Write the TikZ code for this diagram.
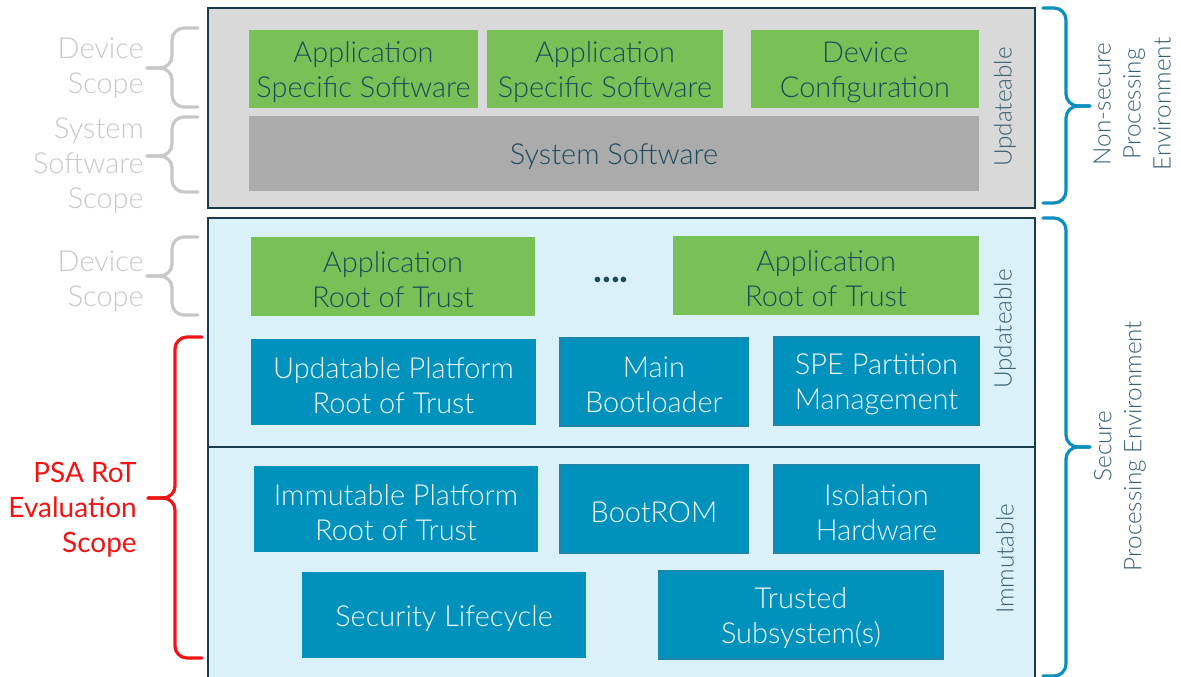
\documentclass[tikz,border=0pt]{standalone}
\usepackage{fontspec}
\setmainfont{Lato Light}[BoldFont={Lato Bold}]
\newfontfamily\latoreg{Lato}
\definecolor{cgrayfill}{HTML}{D9D9D9}
\definecolor{cbluefill}{HTML}{DAF1FA}
\definecolor{cborder}{HTML}{1B3A4B}
\definecolor{cgreen}{HTML}{77C157}
\definecolor{csys}{HTML}{ABABAB}
\definecolor{cblue}{HTML}{0091BD}
\definecolor{cbedge}{HTML}{1A86AC}
\definecolor{cdark}{HTML}{1E4A5C}
\definecolor{cwhite}{HTML}{F2F9FC}
\definecolor{cscope}{HTML}{C8C8C8}
\definecolor{cside}{HTML}{3A6072}
\definecolor{cbrace}{HTML}{0A8FBF}
\definecolor{cred}{HTML}{F01414}
\begin{document}
\begin{tikzpicture}[x=0.75pt,y=-0.75pt,
  wh/.style 2 args={minimum width=#1*0.75pt, minimum height=#2*0.75pt},
  box/.style={rectangle, inner sep=0pt},
  btext/.style={align=center, inner sep=0pt, yshift=-2.4pt, font=\fontsize{21.7}{26.3}\selectfont},
  gtext/.style={btext, text=cdark},
  wtext/.style={btext, text=cwhite},
  gbox/.style={box, fill=cgreen, label={[gtext]center:{#1}}},
  sysbox/.style={box, fill=csys, label={[gtext]center:{#1}}},
  bbox/.style={box, fill=cblue, label={[wtext]center:{#1}}},
  bboxe/.style={box, fill=cblue, draw=cbedge, line width=0.9pt, label={[wtext]center:{#1}}},
  outerbox/.style={rectangle, draw=cborder, line width=1.6pt, inner sep=0pt},
  sidelabel/.style={font=\fontsize{18.2}{22.5}\selectfont, text=cside, align=center, rotate=90},
  scopelabel/.style={font=\fontsize{21.7}{26.3}\selectfont, text=cscope, align=right, anchor=east, inner sep=0pt},
  bracestyle/.style={line width=2.4pt, rounded corners=9pt, line cap=round}
]
\useasboundingbox (0,0) rectangle (1181,677);
\fill[white] (0,0) rectangle (1181,677);

% outer regions
\node[outerbox, fill=cgrayfill, wh={827}{200}] (nspe) at (621.5,108) {};
\node[outerbox, fill=cbluefill, wh={827}{472}] (spe) at (621.5,454) {};
\coordinate (divl) at (208,447);
\coordinate (divr) at (1035,447);
\draw[draw=cborder, line width=1.6pt] (divl) -- (divr);

% non-secure boxes
\node[gbox={Application\\Specific Software}, wh={229}{78}] (asw1) at (363.5,69) {};
\node[gbox={Application\\Specific Software}, wh={236}{78}] (asw2) at (605,69) {};
\node[gbox={Device\\Configuration}, wh={228}{78}] (devcfg) at (865,69) {};
\node[sysbox={System Software}, wh={730}{75}] (syssw) at (614,153.5) {};

% secure updateable
\node[gbox={Application\\Root of Trust}, wh={284}{79}] (arot1) at (393,276.5) {};
\node[font=\fontsize{28}{28}\selectfont\bfseries, text=cdark, inner sep=0pt] (dots) at (611,280) {....};
\node[gbox={Application\\Root of Trust}, wh={306}{79}] (arot2) at (826,275.5) {};
\node[bbox={Updatable Platform\\Root of Trust}, wh={285}{86}] (uprot) at (393.5,382) {};
\node[bboxe={Main\\Bootloader}, wh={188}{88}] (mbl) at (654,382) {};
\node[bboxe={SPE Partition\\Management}, wh={205}{88}] (spm) at (876.5,381) {};

% secure immutable
\node[bbox={Immutable Platform\\Root of Trust}, wh={284}{86}] (iprot) at (396,509) {};
\node[bboxe={BootROM}, wh={188}{88}] (brom) at (654,509) {};
\node[bboxe={Isolation\\Hardware}, wh={205}{88}] (iso) at (876.5,509) {};
\node[bbox={Security Lifecycle}, wh={284}{86}] (slc) at (444,615) {};
\node[bboxe={Trusted\\Subsystem(s)}, wh={284}{88}] (tss) at (801,615) {};

% rotated labels inside
\node[sidelabel] (upd1) at (1005,107) {Updateable};
\node[sidelabel] (upd2) at (1005,329) {Updateable};
\node[sidelabel] (imm) at (1005,559) {Immutable};

% right side labels
\node[sidelabel] (nslabel) at (1132,104) {Non-secure\\Processing\\Environment};
\node[sidelabel] (slabel) at (1120,446) {Secure\\Processing Environment};

% right braces
\coordinate (rb1a) at (1043,8);
\coordinate (rb1m) at (1066,106);
\coordinate (rb1t) at (1090,106);
\coordinate (rb1b) at (1043,203);
\draw[bracestyle, draw=cbrace] (rb1a) -| (rb1m) -- (rb1t);
\draw[bracestyle, draw=cbrace] (rb1b) -| (rb1m) -- (rb1t);
\coordinate (rb2a) at (1043,218);
\coordinate (rb2m) at (1066,447);
\coordinate (rb2t) at (1090,447);
\coordinate (rb2b) at (1043,676);
\draw[bracestyle, draw=cbrace] (rb2a) -| (rb2m) -- (rb2t);
\draw[bracestyle, draw=cbrace] (rb2b) -| (rb2m) -- (rb2t);

% left scope labels
\node[scopelabel] (ds1) at (144,68) {Device\\Scope};
\node[scopelabel] (sss) at (144,165.5) {System\\Software\\Scope};
\node[scopelabel] (ds2) at (144,281.5) {Device\\Scope};
\node[scopelabel, text=cred, font=\latoreg\fontsize{21}{26.3}\selectfont] (psa) at (137,509.5) {PSA RoT\\Evaluation\\Scope};

% left braces
\coordinate (lb1a) at (198,28);
\coordinate (lb1m) at (172,68);
\coordinate (lb1t) at (147,68);
\coordinate (lb1b) at (198,107);
\draw[bracestyle, draw=cscope] (lb1a) -| (lb1m) -- (lb1t);
\draw[bracestyle, draw=cscope] (lb1b) -| (lb1m) -- (lb1t);
\coordinate (lb2a) at (198,117);
\coordinate (lb2m) at (172,156);
\coordinate (lb2t) at (147,156);
\coordinate (lb2b) at (198,192);
\draw[bracestyle, draw=cscope] (lb2a) -| (lb2m) -- (lb2t);
\draw[bracestyle, draw=cscope] (lb2b) -| (lb2m) -- (lb2t);
\coordinate (lb3a) at (198,237);
\coordinate (lb3m) at (172,276);
\coordinate (lb3t) at (147,276);
\coordinate (lb3b) at (198,315);
\draw[bracestyle, draw=cscope] (lb3a) -| (lb3m) -- (lb3t);
\draw[bracestyle, draw=cscope] (lb3b) -| (lb3m) -- (lb3t);
\coordinate (lb4a) at (202,337);
\coordinate (lb4m) at (175,498);
\coordinate (lb4t) at (148,498);
\coordinate (lb4b) at (202,658);
\draw[bracestyle, draw=cred] (lb4a) -| (lb4m) -- (lb4t);
\draw[bracestyle, draw=cred] (lb4b) -| (lb4m) -- (lb4t);
\end{tikzpicture}
\end{document}
